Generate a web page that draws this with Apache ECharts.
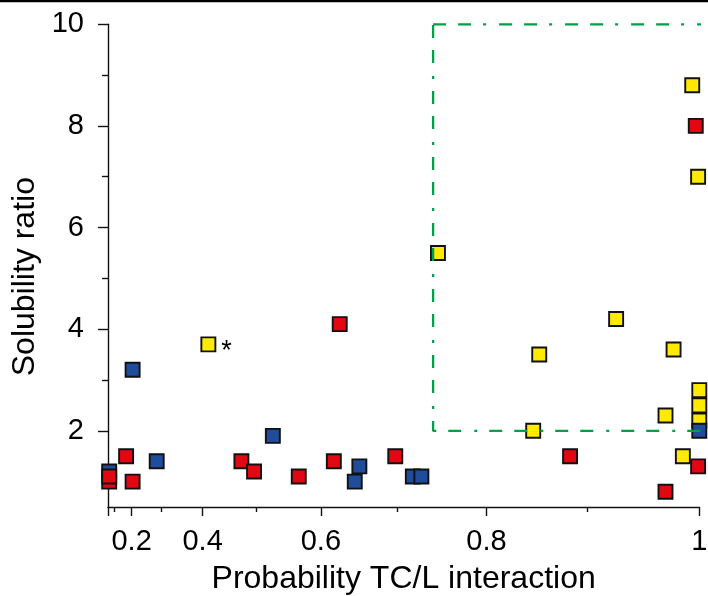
<!DOCTYPE html>
<html>
<head>
<meta charset="utf-8">
<script src="https://cdn.jsdelivr.net/npm/echarts@6/dist/echarts.min.js"></script>
<style>
  html, body { margin: 0; padding: 0; background: #fff; }
  #chart { width: 708px; height: 596px; }
</style>
</head>
<body>
<div id="chart"></div>
<script>
// Probability of TC/L interaction (x) against solubility ratio (y), per group.
const yellowX = [0.412, 0.747, 0.848, 0.854, 0.927, 0.971, 0.978, 0.986, 0.994, 0.999, 1.0, 1.0, 1.0];
const yellowY = [3.7, 5.5, 2.0, 3.5, 4.2, 2.3, 3.6, 1.5, 8.8, 7.0, 2.8, 2.5, 2.2];
const yellowNote = ['*', '', '', '', '', '', '', '', '', '', '', '', ''];

const blueX = [0.045, 0.204, 0.287, 0.528, 0.652, 0.646, 0.718, 0.728, 1.0];
const blueY = [1.2, 3.2, 1.4, 1.9, 1.3, 1.0, 1.1, 1.1, 2.0];

const redX = [0.045, 0.045, 0.175, 0.204, 0.475, 0.497, 0.568, 0.618, 0.626, 0.697, 0.884, 0.971, 0.997, 0.999];
const redY = [1.0, 1.1, 1.5, 1.0, 1.4, 1.2, 1.1, 1.4, 4.1, 1.5, 1.5, 0.8, 8.0, 1.3];

// Highlighted region (dash-dot frame)
const boxX = [0.7415, 1.0056];
const boxY = [2, 10];

// Axis ticks
const xMajorTicks = [0, 0.2, 0.4, 0.6, 0.8, 1];
const xTickValues = [0.2, 0.4, 0.6, 0.8, 1];
const xTickLabels = ['0.2', '0.4', '0.6', '0.8', '1'];
const xMinorTicks = [0.1, 0.3, 0.5, 0.7, 0.9];
const yTickValues = [2, 4, 6, 8, 10];
const yMinorTicks = [1, 3, 5, 7, 9];

// The probability axis uses a squared scale.
const sq = v => v * v;

const FONT = 'Liberation Sans';
const AXIS_COLOR = '#111';

function pts(xs, ys, notes) {
  return xs.map((x, i) => {
    const item = { value: [sq(x), ys[i]] };
    if (notes && notes[i]) {
      item.label = {
        show: true, formatter: notes[i], position: 'right', distance: 5,
        fontFamily: FONT, fontSize: 27, color: '#000', offset: [0, 7]
      };
    }
    return item;
  });
}

function xLabel(val) {
  const i = xTickValues.findIndex(t => Math.abs(sq(t) - val) < 1e-9);
  return i >= 0 ? xTickLabels[i] : '';
}

const chart = echarts.init(document.getElementById('chart'), null, { renderer: 'canvas' });

const markerStyle = color => ({ color: color, opacity: 1, borderColor: '#111', borderWidth: 1.9 });

chart.setOption({
  animation: false,
  backgroundColor: '#fff',
  grid: { left: 108, right: 8.7, top: 24.3, bottom: 89, containLabel: false, outerBoundsMode: 'none' },
  xAxis: [
    {
      type: 'value', min: 0, max: 1, position: 'bottom',
      name: 'Probability TC/L interaction', nameLocation: 'middle', nameGap: 56,
      nameTextStyle: { fontFamily: FONT, fontSize: 32, color: '#000' },
      axisLine: { show: true, lineStyle: { color: AXIS_COLOR, width: 1.4 } },
      axisTick: { show: true, inside: false, length: 9, lineStyle: { color: AXIS_COLOR, width: 1.4 },
                  customValues: xMajorTicks.map(sq) },
      axisLabel: { show: true, margin: 20, fontFamily: FONT, fontSize: 29, color: '#000',
                   customValues: xTickValues.map(sq), formatter: xLabel },
      splitLine: { show: false }
    },
    {
      type: 'value', min: 0, max: 1, position: 'bottom',
      axisLine: { show: false },
      axisTick: { show: true, inside: false, length: 5, lineStyle: { color: AXIS_COLOR, width: 1.4 },
                  customValues: xMinorTicks.map(sq) },
      axisLabel: { show: false },
      splitLine: { show: false }
    }
  ],
  yAxis: [
    {
      type: 'value', min: 0.5, max: 10, position: 'left',
      name: 'Solubility ratio', nameLocation: 'middle', nameGap: 62, nameRotate: 90,
      nameTextStyle: { fontFamily: FONT, fontSize: 32, color: '#000', padding: [0, 22, 0, 0] },
      axisLine: { show: true, lineStyle: { color: AXIS_COLOR, width: 1.4 } },
      axisTick: { show: true, inside: false, length: 10, lineStyle: { color: AXIS_COLOR, width: 1.4 },
                  customValues: yTickValues },
      axisLabel: { show: true, margin: 24, fontFamily: FONT, fontSize: 29, color: '#000',
                   customValues: yTickValues },
      splitLine: { show: false }
    },
    {
      type: 'value', min: 0.5, max: 10, position: 'left',
      axisLine: { show: false },
      axisTick: { show: true, inside: false, length: 6, lineStyle: { color: AXIS_COLOR, width: 1.4 },
                  customValues: yMinorTicks },
      axisLabel: { show: false },
      splitLine: { show: false }
    }
  ],
  graphic: [
    { type: 'rect', shape: { x: 0, y: 0, width: 708, height: 2.3 }, style: { fill: '#000' }, silent: true }
  ],
  series: [
    {
      type: 'line', xAxisIndex: 0, yAxisIndex: 0, silent: true, clip: false,
      symbol: 'none',
      lineStyle: { color: '#00a046', width: 2.3, type: [13, 12, 13, 12, 3, 13] },
      data: [
        [sq(boxX[0]), boxY[1]], [sq(boxX[1]), boxY[1]], [sq(boxX[1]), boxY[0]],
        [sq(boxX[0]), boxY[0]], [sq(boxX[0]), boxY[1]]
      ]
    },
    {
      type: 'scatter', name: 'yellow', xAxisIndex: 0, yAxisIndex: 0, clip: false,
      symbol: 'rect', symbolSize: 14, itemStyle: markerStyle('#ffea00'),
      data: pts(yellowX, yellowY, yellowNote)
    },
    {
      type: 'scatter', name: 'blue', xAxisIndex: 0, yAxisIndex: 0, clip: false,
      symbol: 'rect', symbolSize: 14, itemStyle: markerStyle('#1f4d9c'),
      data: pts(blueX, blueY)
    },
    {
      type: 'scatter', name: 'red', xAxisIndex: 0, yAxisIndex: 0, clip: false,
      symbol: 'rect', symbolSize: 14, itemStyle: markerStyle('#e30613'),
      data: pts(redX, redY)
    }
  ]
});
</script>
</body>
</html>
